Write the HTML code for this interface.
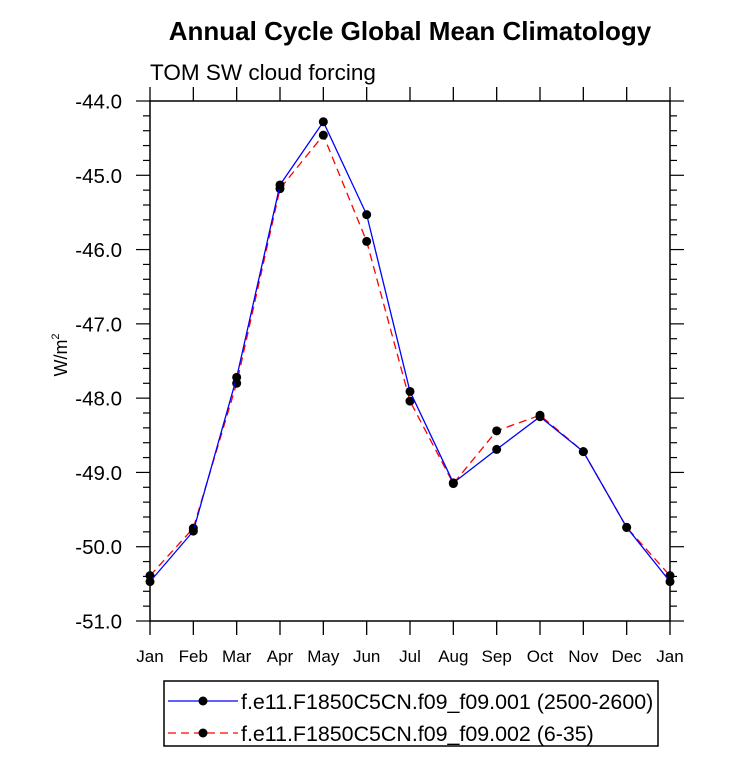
<!DOCTYPE html>
<html><head><meta charset="utf-8"><style>
body{margin:0;background:#fff;font-family:"Liberation Sans",sans-serif}
svg text{font-family:"Liberation Sans",sans-serif}
</style></head><body>
<svg width="733" height="757">
<text x="410" y="40" text-anchor="middle" font-size="26" font-weight="bold">Annual Cycle Global Mean Climatology</text>
<text x="150" y="80" font-size="22.5">TOM SW cloud forcing</text>
<text transform="translate(67,355) rotate(-90)" text-anchor="middle" font-size="18">W/m<tspan font-size="11" dy="-8">2</tspan></text>
<g id="axes"></g><g id="series"></g>
<g>
<rect x="164" y="681" width="494" height="65" fill="#fff" stroke="#000" stroke-width="1.5"/>
<g>
<line x1="168" y1="701" x2="238" y2="701" stroke="#0000ff" stroke-width="1.3"/><circle cx="203" cy="701" r="4.5"/>
<text x="241" y="709" font-size="21.4">f.e11.F1850C5CN.f09_f09.001 (2500-2600)</text></g>
<g>
<line x1="168" y1="733" x2="238" y2="733" stroke="#ff0000" stroke-width="1.3" stroke-dasharray="8,5"/><circle cx="203" cy="733" r="4.5"/>
<text x="241" y="741" font-size="21.4">f.e11.F1850C5CN.f09_f09.002 (6-35)</text></g>
</g>
</svg>
<script>
const months=["Jan","Feb","Mar","Apr","May","Jun","Jul","Aug","Sep","Oct","Nov","Dec","Jan"];
const yTicks=[-44,-45,-46,-47,-48,-49,-50,-51];
const series1=[-50.47,-49.79,-47.72,-45.13,-44.28,-45.53,-47.91,-49.14,-48.69,-48.25,-48.72,-49.74,-50.47];
const series2=[-50.39,-49.75,-47.80,-45.18,-44.46,-45.89,-48.04,-49.15,-48.44,-48.23,-48.72,-49.74,-50.39];
const L=150,R=670,T=101,B=621,ymin=-51,ymax=-44;
const xs=i=>L+(R-L)*i/(months.length-1);
const ys=v=>B-(v-ymin)/(ymax-ymin)*(B-T);
const NS="http://www.w3.org/2000/svg";
function mk(t,a,p){const e=document.createElementNS(NS,t);for(const k in a)e.setAttribute(k,a[k]);p.appendChild(e);return e;}
const ax=document.getElementById('axes');
const frame=mk('rect',{x:L,y:T,width:R-L,height:B-T,fill:'none',stroke:'#000','stroke-width':1.5},ax);


months.forEach((m,i)=>{const x=xs(i);
mk('line',{x1:x,y1:B,x2:x,y2:B+14,stroke:'#000','stroke-width':1.3},ax);
mk('line',{x1:x,y1:T,x2:x,y2:T-14,stroke:'#000','stroke-width':1.3},ax);
const t=mk('text',{x:x,y:B+41,'text-anchor':'middle','font-size':17},ax);t.textContent=m;

});
for(let v=ymin;v<=ymax+1e-9;v+=0.2){const y=ys(v);const major=Math.abs(v-Math.round(v))<1e-6;const len=major?14:7;
mk('line',{x1:L,y1:y,x2:L-len,y2:y,stroke:'#000','stroke-width':1.2},ax);
mk('line',{x1:R,y1:y,x2:R+len,y2:y,stroke:'#000','stroke-width':1.2},ax);}
yTicks.forEach(v=>{const t=mk('text',{x:L-28,y:ys(v)+7.5,'text-anchor':'end','font-size':20.5},ax);t.textContent=v.toFixed(1);

});
const sg=document.getElementById('series');
function draw(d,col,dash,name){const g=mk('g',{},sg);


const p=mk('polyline',{points:d.map((v,i)=>xs(i)+','+ys(v)).join(' '),fill:'none',stroke:col,'stroke-width':1.3,'stroke-dasharray':dash},g);
d.forEach((v,i)=>{const c=mk('circle',{cx:xs(i),cy:ys(v),r:4.5,fill:'#000'},g);

});}
draw(series2,'#ff0000','8,5','series-002');
draw(series1,'#0000ff','none','series-001');
</script>
</body></html>
